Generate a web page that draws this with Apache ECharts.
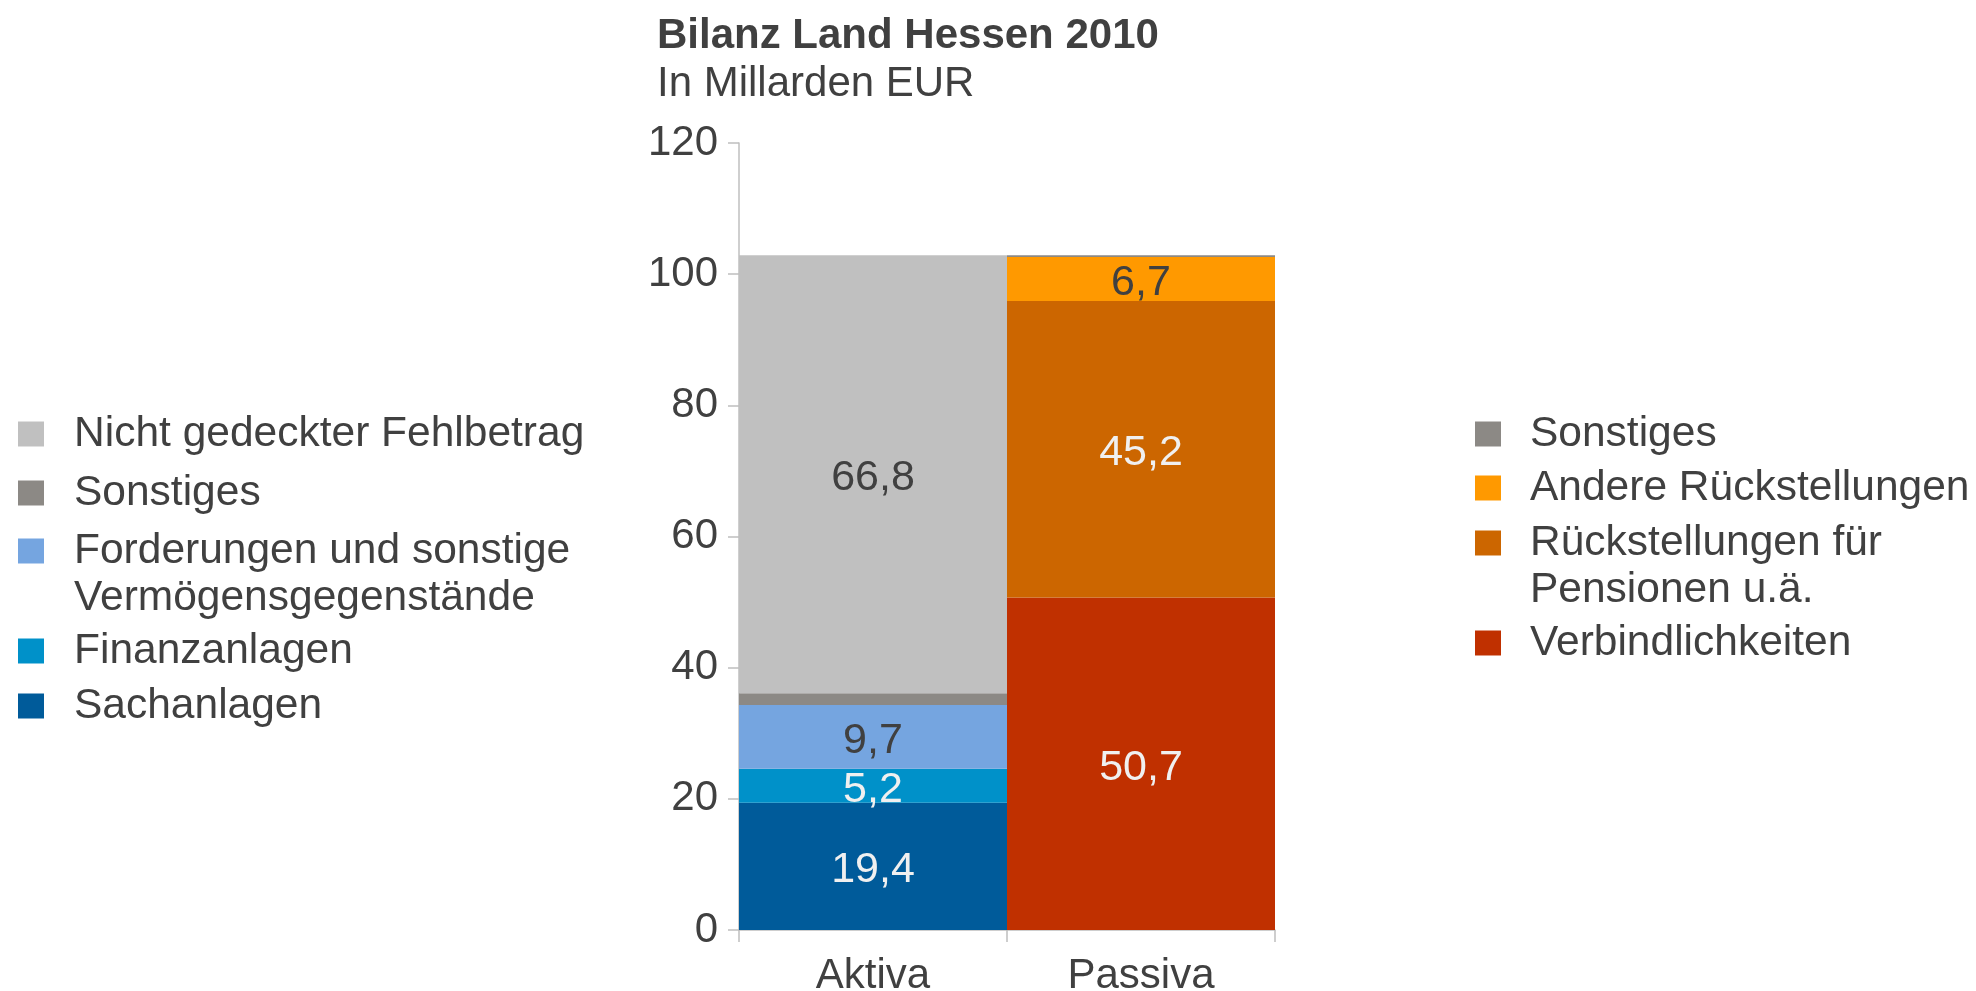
<!DOCTYPE html>
<html>
<head>
<meta charset="utf-8">
<title>Bilanz Land Hessen 2010</title>
<script src="https://cdn.jsdelivr.net/npm/echarts@6/dist/echarts.min.js"></script>
<style>
  html, body { margin: 0; padding: 0; background: #fff; }
  #main { width: 1976px; height: 991px; }
</style>
</head>
<body>
<div id="main"></div>
<script>
// data
const categories = ['Aktiva', 'Passiva'];
const yTicks = [0, 20, 40, 60, 80, 100, 120];

// Aktiva, bottom to top
const aktivaNames = ['Sachanlagen', 'Finanzanlagen', 'Forderungen und sonstige\nVermögensgegenstände', 'Sonstiges', 'Nicht gedeckter Fehlbetrag'];
const aktivaValues = [19.4, 5.2, 9.7, 1.8, 66.8];
const aktivaColors = ['#005b9a', '#0091c9', '#75a5e0', '#8c8985', '#c0c0c0'];
const aktivaLabelColors = ['#f0f0f0', '#f0f0f0', '#404040', null, '#404040'];

// Passiva, bottom to top
const passivaNames = ['Verbindlichkeiten', 'Rückstellungen für\nPensionen u.ä.', 'Andere Rückstellungen', 'Sonstiges'];
const passivaValues = [50.7, 45.2, 6.7, 0.3];
const passivaColors = ['#c03000', '#cc6600', '#ff9900', '#8c8985'];
const passivaLabelColors = ['#f0f0f0', '#f0f0f0', '#404040', null];

const FONT = '"Liberation Sans", Arial, sans-serif';
const TXT = '#404040';
const AXIS = '#bfbfbf';

let myChart = echarts.init(document.getElementById('main'));

function makeSeries(names, values, colors, labelColors, idx) {
  return names.map(function (name, i) {
    let data = ['-', '-'];
    data[idx] = values[i];
    return {
      name: name,
      type: 'bar',
      stack: 'total',
      barWidth: '100%',
      barCategoryGap: 0,
      data: data,
      itemStyle: { color: colors[i] },
      label: {
        show: labelColors[i] != null,
        position: 'inside',
        offset: [0, 4],
        color: labelColors[i] || TXT,
        fontFamily: FONT,
        fontSize: 43,
        formatter: function (p) { return String(p.value).replace('.', ','); }
      },
      emphasis: { disabled: true }
    };
  });
}

let series = makeSeries(aktivaNames, aktivaValues, aktivaColors, aktivaLabelColors, 0)
  .concat(makeSeries(passivaNames, passivaValues, passivaColors, passivaLabelColors, 1));

// one legend per entry so each can sit where the reference has it
const LINE = 47;
const TPAD = 8;
function legendItem(name, left, centerY, gap) {
  let multi = name.indexOf('\n') >= 0;
  let h = (multi ? 3 : 1) * LINE + TPAD;
  return {
    data: [name],
    left: left,
    top: centerY - h / 2,
    padding: 0,
    itemWidth: 26,
    itemHeight: 25,
    itemGap: 0,
    icon: 'rect',
    selectedMode: false,
    // leading blank line keeps the first text line level with the icon
    formatter: function (n) { return multi ? '\n' + n : n; },
    textStyle: { fontFamily: FONT, fontSize: 42.5, color: TXT, lineHeight: LINE, padding: [TPAD, 0, 0, gap] }
  };
}
const leftOrder = [4, 3, 2, 1, 0];
const leftCenters = [434, 493, 551, 651, 706];
const rightOrder = [3, 2, 1, 0];
const rightCenters = [434, 488, 543, 643];
let legends = leftOrder.map(function (k, i) { return legendItem(aktivaNames[k], 18, leftCenters[i], 25); })
  .concat(rightOrder.map(function (k, i) { return legendItem(passivaNames[k], 1475, rightCenters[i], 24); }));

let option = {
  animation: false,
  title: {
    text: 'Bilanz Land Hessen 2010',
    subtext: 'In Millarden EUR',
    left: 657,
    top: 12,
    padding: 0,
    itemGap: 0,
    textStyle: { fontFamily: FONT, fontSize: 42, fontWeight: 'bold', color: TXT, lineHeight: 48 },
    subtextStyle: { fontFamily: FONT, fontSize: 42, color: TXT, lineHeight: 48 }
  },
  legend: legends,
  grid: { left: 739, width: 536, top: 143, bottom: 61, containLabel: false, outerBoundsMode: 'none' },
  xAxis: {
    type: 'category',
    data: categories,
    axisLine: { lineStyle: { color: AXIS, width: 1.5 } },
    axisTick: { show: true, length: 12, lineStyle: { color: AXIS, width: 1.5 } },
    axisLabel: { fontFamily: FONT, fontSize: 42, color: TXT, margin: 25 }
  },
  yAxis: {
    type: 'value',
    min: yTicks[0],
    max: yTicks[yTicks.length - 1],
    interval: yTicks[1] - yTicks[0],
    splitLine: { show: false },
    axisLine: { show: true, lineStyle: { color: AXIS, width: 1.5 } },
    axisTick: { show: true, length: 11, lineStyle: { color: AXIS, width: 1.5 } },
    axisLabel: { fontFamily: FONT, fontSize: 42, color: TXT, margin: 21, padding: [6, 0, 0, 0] }
  },
  series: series
};
myChart.setOption(option);
</script>
</body>
</html>
